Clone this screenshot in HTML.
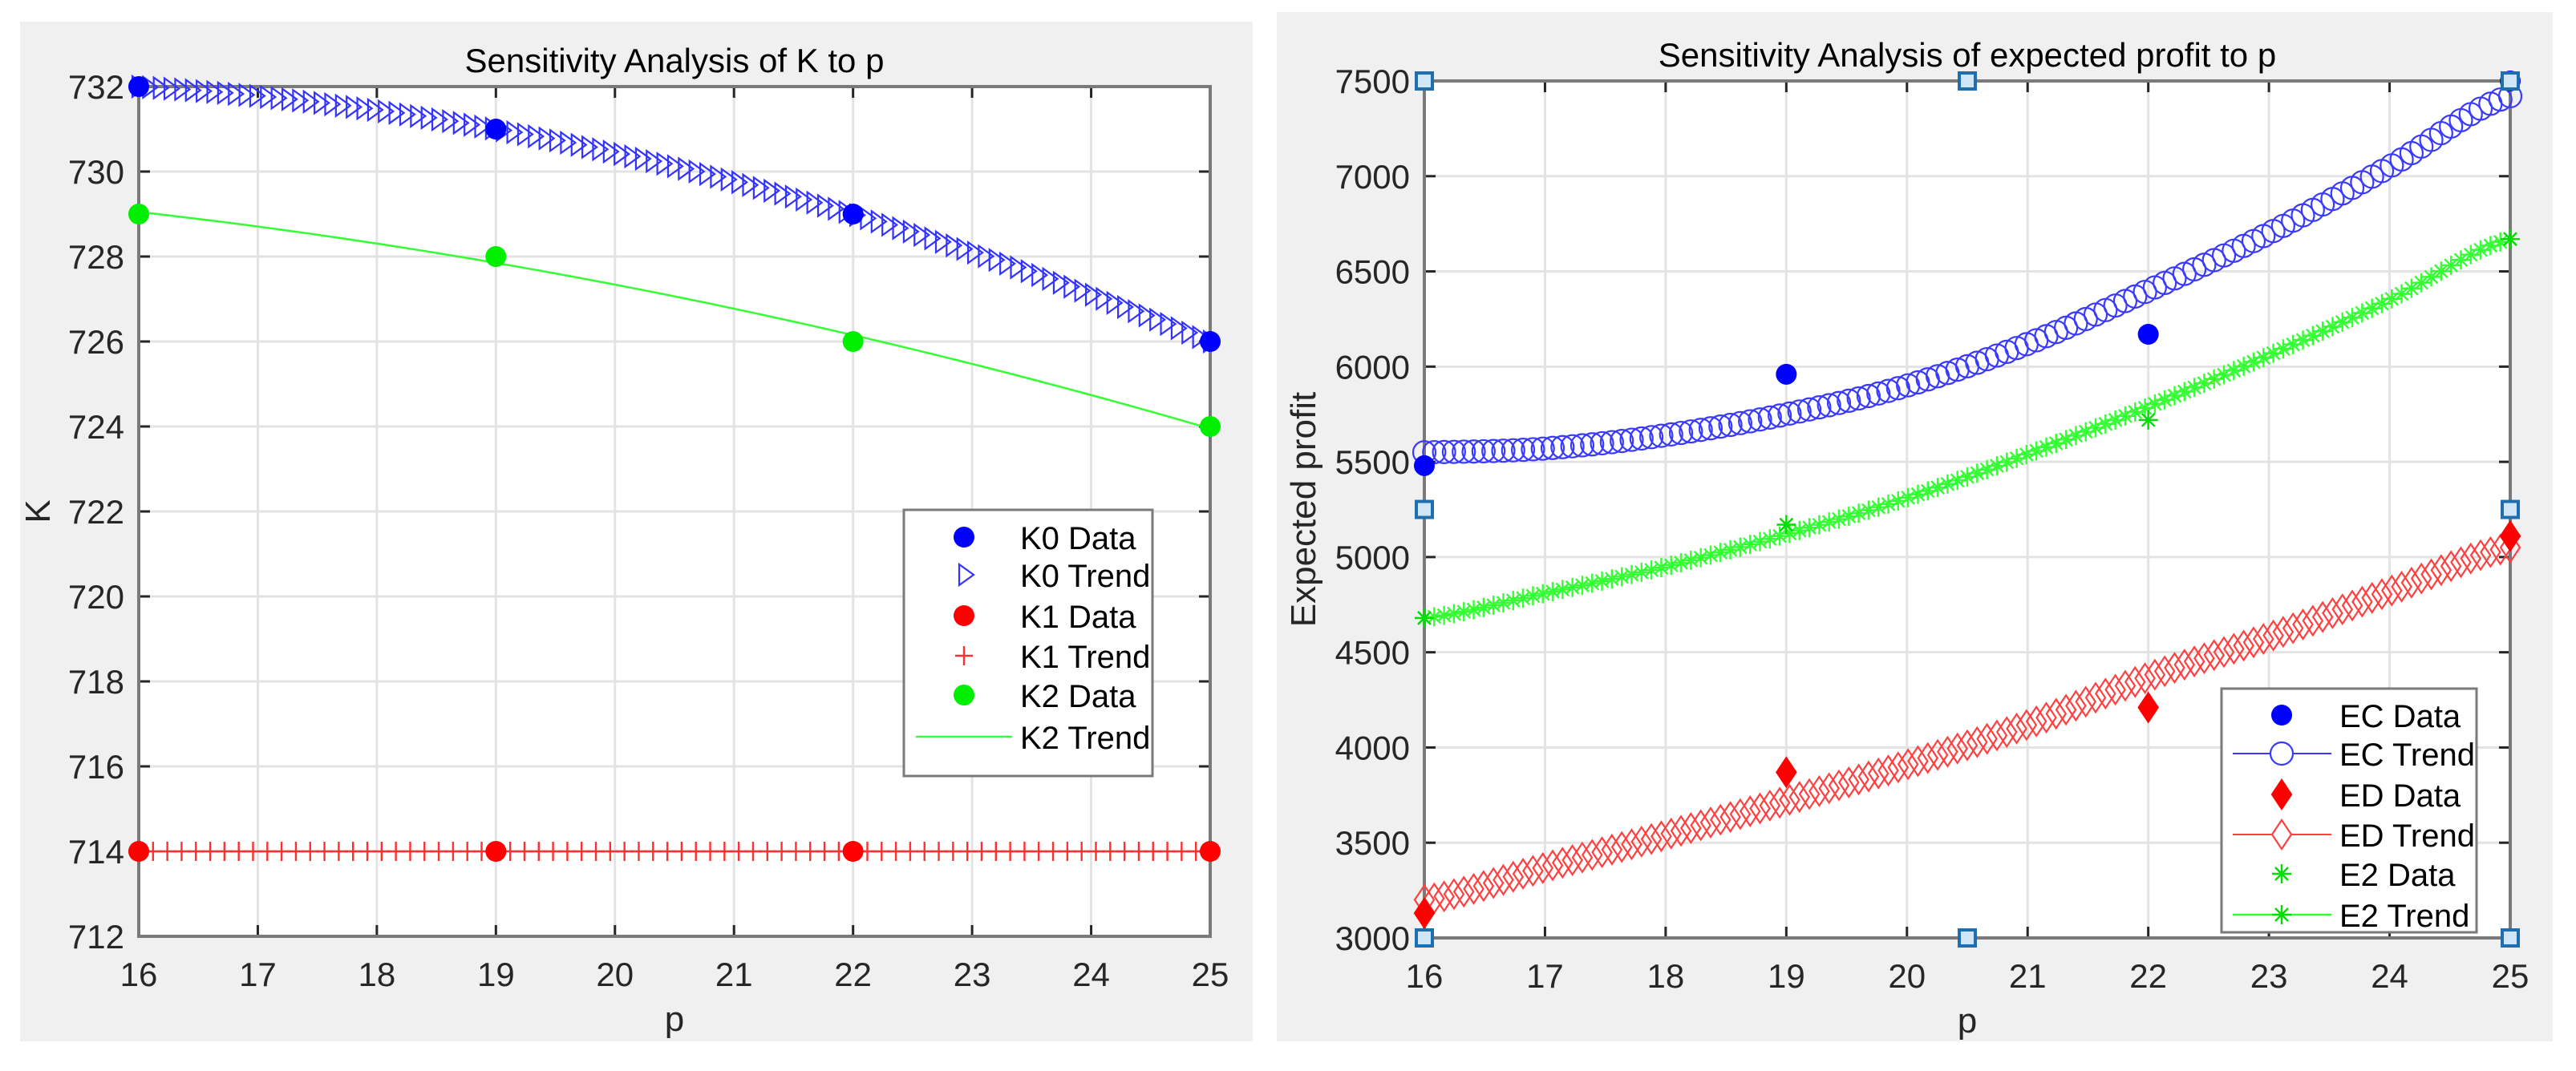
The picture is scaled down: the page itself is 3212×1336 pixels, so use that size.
<!DOCTYPE html>
<html><head><meta charset="utf-8"><style>
html,body{margin:0;padding:0;background:#fff;}
svg{display:block;font-family:"Liberation Sans",sans-serif;}
</style></head><body>
<svg id="c" width="3212" height="1336" viewBox="0 0 3212 1336" xmlns="http://www.w3.org/2000/svg"></svg>
<script>
const pData = [16, 19, 22, 25];
const k0Data = [732, 731, 729, 726];
const k1Data = [714, 714, 714, 714];
const k2Data = [729, 728, 726, 724];
const kTicksY = [712,714,716,718,720,722,724,726,728,730,732];
const pTicks = [16,17,18,19,20,21,22,23,24,25];
const trendP = [16,17,18,19,20,21,22,23,24,25];
const ecTrend = [5550,5570,5640,5750,5900,6120,6400,6700,7050,7420];
const e2Trend = [4680,4810,4950,5120,5310,5540,5790,6060,6350,6670];
const edTrend = [3200,3370,3540,3720,3910,4120,4370,4580,4820,5050];
const ecData = [5480, 5960, 6170, 7500];
const edData = [3130, 3870, 4210, 5110];
const e2Data = [4680, 5170, 5720, 6670];
const eTicksY = [3000,3500,4000,4500,5000,5500,6000,6500,7000,7500];
const handleP = [16, 20.5, 25, 16, 25, 16, 20.5, 25];
const handleV = [7500, 7500, 7500, 5250, 5250, 3000, 3000, 3000];

const NS="http://www.w3.org/2000/svg";
const svg=document.getElementById('c');
function el(tag,attrs,parent){const e=document.createElementNS(NS,tag);for(const k in attrs)e.setAttribute(k,attrs[k]);(parent||svg).appendChild(e);return e;}
function txt(s,attrs,parent){const t=el('text',attrs,parent);t.textContent=s;return t;}

function polyfit2(xs,ys){let n=xs.length,S=[0,0,0,0,0],T=[0,0,0];
 for(let i=0;i<n;i++){let x=xs[i];for(let k=0;k<5;k++)S[k]+=Math.pow(x,k);for(let k=0;k<3;k++)T[k]+=ys[i]*Math.pow(x,k);}
 const A=[[S[0],S[1],S[2],T[0]],[S[1],S[2],S[3],T[1]],[S[2],S[3],S[4],T[2]]];
 for(let i=0;i<3;i++){for(let j=i+1;j<3;j++){const f=A[j][i]/A[i][i];for(let k=i;k<4;k++)A[j][k]-=f*A[i][k];}}
 const c=[0,0,0];for(let i=2;i>=0;i--){let s=A[i][3];for(let k=i+1;k<3;k++)s-=A[i][k]*c[k];c[i]=s/A[i][i];}
 return x=>c[0]+c[1]*x+c[2]*x*x;}
function spline(xs,ys){return x=>{let i=Math.min(xs.length-2,Math.max(0,Math.floor(x-xs[0])));
 const t=(x-xs[i])/(xs[i+1]-xs[i]);const p0=ys[Math.max(0,i-1)],p1=ys[i],p2=ys[i+1],p3=ys[Math.min(ys.length-1,i+2)];
 return 0.5*((2*p1)+(-p0+p2)*t+(2*p0-5*p1+4*p2-p3)*t*t+(-p0+3*p1-3*p2+p3)*t*t*t);};}

function axes(cfg){
 const g=el('g',{});
 
 
 const bg=el('rect',{x:cfg.bx,y:cfg.by,width:cfg.bw,height:cfg.bh,fill:'#f0f0f0'},g);
 
 
 const pa=el('rect',{x:cfg.L,y:cfg.T,width:cfg.R-cfg.L,height:cfg.B-cfg.T,fill:'#fff'},g);
 
 
 const sx=v=>cfg.L+(v-cfg.x0)/(cfg.x1-cfg.x0)*(cfg.R-cfg.L);
 const sy=v=>cfg.B-(v-cfg.y0)/(cfg.y1-cfg.y0)*(cfg.B-cfg.T);
 cfg.xt.forEach(v=>{const x=sx(v);
  el('line',{x1:x,x2:x,y1:cfg.T,y2:cfg.B,stroke:'#e3e3e3','stroke-width':3},g);
  el('line',{x1:x,x2:x,y1:cfg.B,y2:cfg.B-14,stroke:'#262626','stroke-width':3},g);
  el('line',{x1:x,x2:x,y1:cfg.T,y2:cfg.T+14,stroke:'#262626','stroke-width':3},g);
  const t=txt(String(v),{x:x,y:cfg.B+62,'font-size':42,'text-anchor':'middle',fill:'#262626'},g);
  
  });
 cfg.yt.forEach(v=>{const y=sy(v);
  el('line',{x1:cfg.L,x2:cfg.R,y1:y,y2:y,stroke:'#e3e3e3','stroke-width':3},g);
  el('line',{x1:cfg.L,x2:cfg.L+14,y1:y,y2:y,stroke:'#262626','stroke-width':3},g);
  el('line',{x1:cfg.R,x2:cfg.R-14,y1:y,y2:y,stroke:'#262626','stroke-width':3},g);
  const t=txt(String(v),{x:cfg.L-18,y:y+15,'font-size':42,'text-anchor':'end',fill:'#262626'},g);
  
  });
 el('rect',{x:cfg.L,y:cfg.T,width:cfg.R-cfg.L,height:cfg.B-cfg.T,fill:'none',stroke:'#7a7a7a','stroke-width':4},g);
 const ti=txt(cfg.title,{x:(cfg.L+cfg.R)/2,y:cfg.T-18,'font-size':42,'text-anchor':'middle',fill:'#000'},g);
 
 
 const xl=txt('p',{x:(cfg.L+cfg.R)/2,y:cfg.B+118,'font-size':44,'text-anchor':'middle',fill:'#262626'},g);
 
 
 const yl=txt(cfg.ylab,{x:0,y:0,'font-size':44,'text-anchor':'middle',fill:'#262626',transform:`translate(${cfg.ylx},${(cfg.T+cfg.B)/2}) rotate(-90)`},g);
 
 
 return {g,sx,sy};
}
function dot(g,x,y,r,c){return el('circle',{cx:x,cy:y,r:r,fill:c},g);}
function tri(g,x,y,c){return el('path',{d:`M${x-8},${y-13}L${x+10},${y}L${x-8},${y+13}Z`,fill:'none',stroke:c,'stroke-width':2.2},g);}
function plus(g,x,y,c){return el('path',{d:`M${x-11},${y}H${x+11}M${x},${y-12}V${y+12}`,stroke:c,'stroke-width':2.4,fill:'none'},g);}
function ring(g,x,y,c){return el('circle',{cx:x,cy:y,r:14,fill:'none',stroke:c,'stroke-width':2.2},g);}
function dia(g,x,y,c,fill){return el('path',{d:`M${x},${y-18}L${x+12},${y}L${x},${y+18}L${x-12},${y}Z`,fill:fill?c:'none',stroke:c,'stroke-width':2.2},g);}
function star(g,x,y,c){return el('path',{d:`M${x-12},${y}H${x+12}M${x},${y-12}V${y+12}M${x-8},${y-8}L${x+8},${y+8}M${x-8},${y+8}L${x+8},${y-8}`,stroke:c,'stroke-width':2.4,fill:'none'},g);}

// ---------- Left chart ----------
const A=axes({name:'k-sensitivity-chart',bx:25,by:27,bw:1537,bh:1272,L:173,R:1509,T:108,B:1168,x0:16,x1:25,y0:712,y1:732,xt:pTicks,yt:kTicksY,title:'Sensitivity Analysis of K to p',ylab:'K',ylx:62});
const f0=polyfit2(pData,k0Data), f2=polyfit2(pData,k2Data), f1=polyfit2(pData,k1Data);
const kg=el('g',{},A.g);


for(let i=0;i<=100;i++){const p=16+9*i/100;const m=tri(kg,A.sx(p),A.sy(f0(p)),'#3333ff');
 
 }
for(let i=0;i<=75;i++){const p=16+9*i/75;const m=plus(kg,A.sx(p),A.sy(f1(p)),'#ff3030');
 
 }
let d='';for(let i=0;i<=100;i++){const p=16+9*i/100;d+=(i?'L':'M')+A.sx(p)+','+A.sy(f2(p));}
const k2l=el('path',{d:d,stroke:'#33ff33','stroke-width':2.5,fill:'none'},kg);


pData.forEach((p,i)=>{
 let m=dot(kg,A.sx(p),A.sy(k0Data[i]),13,'#0000ff');
 
 
 m=dot(kg,A.sx(p),A.sy(k1Data[i]),13,'#ff0000');
 
 
 m=dot(kg,A.sx(p),A.sy(k2Data[i]),13,'#00ee00');
 
 });
const lg=el('g',{},A.g);


el('rect',{x:1127,y:636,width:310,height:332,fill:'#fff',stroke:'#7a7a7a','stroke-width':3},lg);
const lgY=[670,717,768,818,867,919], lgN=['K0 Data','K0 Trend','K1 Data','K1 Trend','K2 Data','K2 Trend'];
lgY.forEach((y,i)=>{
 const t=txt(lgN[i],{x:1272,y:y+15,'font-size':40,fill:'#000'},lg);
 
 });
dot(lg,1202,lgY[0],13,'#0000ff');tri(lg,1204,lgY[1],'#3333ff');dot(lg,1202,lgY[2],13,'#ff0000');
plus(lg,1202,lgY[3],'#ff3030');dot(lg,1202,lgY[4],13,'#00ee00');
el('line',{x1:1142,x2:1262,y1:lgY[5],y2:lgY[5],stroke:'#33ff33','stroke-width':2.5},lg);

// ---------- Right chart ----------
const Bx=axes({name:'profit-sensitivity-chart',bx:1592,by:15,bw:1591,bh:1284,L:1776,R:3130,T:101,B:1170,x0:16,x1:25,y0:3000,y1:7500,xt:pTicks,yt:eTicksY,title:'Sensitivity Analysis of expected profit to p',ylab:'Expected profit',ylx:1640});
const sEC=spline(trendP,ecTrend), sE2=spline(trendP,e2Trend), sED=spline(trendP,edTrend);
const eg=el('g',{},Bx.g);


for(let i=0;i<=110;i++){const p=16+9*i/110;
 let m=ring(eg,Bx.sx(p),Bx.sy(sEC(p)),'#3a3aff');
 
 
 m=dia(eg,Bx.sx(p),Bx.sy(sED(p)),'#ff4040',false);
 
 
 m=star(eg,Bx.sx(p),Bx.sy(sE2(p)),'#33ff33');
 
 }
pData.forEach((p,i)=>{
 let m=dot(eg,Bx.sx(p),Bx.sy(ecData[i]),13,'#0000ff');
 
 
 m=dia(eg,Bx.sx(p),Bx.sy(edData[i]),'#ff0000',true);
 
 
 m=star(eg,Bx.sx(p),Bx.sy(e2Data[i]),'#00dd00');
 
 });
handleP.forEach((p,i)=>{
 const h=el('rect',{x:Bx.sx(p)-10,y:Bx.sy(handleV[i])-10,width:20,height:20,fill:'#cfe6f7',stroke:'#1f6fb0','stroke-width':4},Bx.g);
 
 });
const rg=el('g',{},Bx.g);


el('rect',{x:2770,y:859,width:318,height:304,fill:'#fff',stroke:'#7a7a7a','stroke-width':3},rg);
const rY=[892,940,991,1041,1090,1141], rN=['EC Data','EC Trend','ED Data','ED Trend','E2 Data','E2 Trend'];
rY.forEach((y,i)=>{
 const t=txt(rN[i],{x:2917,y:y+15,'font-size':40,fill:'#000'},rg);
 
 });
dot(rg,2845,rY[0],13,'#0000ff');
el('line',{x1:2784,x2:2907,y1:rY[1],y2:rY[1],stroke:'#3a3aff','stroke-width':2},rg);
el('circle',{cx:2845,cy:rY[1],r:14,fill:'#fff',stroke:'#3a3aff','stroke-width':2.2},rg);
dia(rg,2845,rY[2],'#ff0000',true);
el('line',{x1:2784,x2:2907,y1:rY[3],y2:rY[3],stroke:'#ff4040','stroke-width':2},rg);
el('path',{d:`M2845,${rY[3]-18}L2857,${rY[3]}L2845,${rY[3]+18}L2833,${rY[3]}Z`,fill:'#fff',stroke:'#ff4040','stroke-width':2.2},rg);
star(rg,2845,rY[4],'#00dd00');
el('line',{x1:2784,x2:2907,y1:rY[5],y2:rY[5],stroke:'#33ff33','stroke-width':2.5},rg);star(rg,2845,rY[5],'#00dd00');
</script>
</body></html>
